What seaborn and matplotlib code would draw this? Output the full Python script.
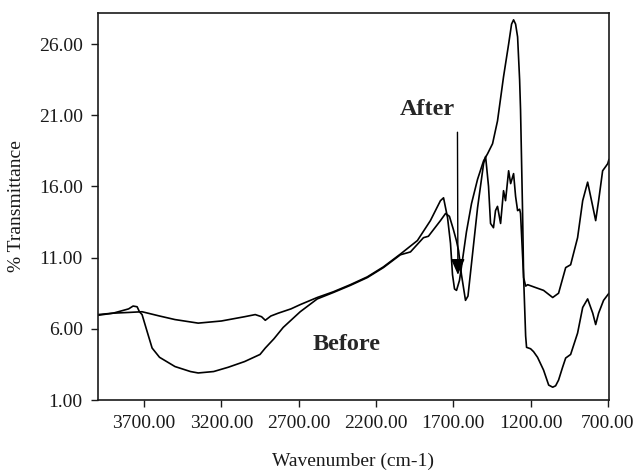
import numpy as np
import matplotlib
matplotlib.use("Agg")
import matplotlib.pyplot as plt
import seaborn as sns

# FTIR spectra (wavenumber cm-1, % transmittance)
wn_after = [3998, 3900, 3800, 3713, 3600, 3500, 3350, 3200, 3050, 2981, 2940, 2916,
            2880, 2832, 2750, 2690, 2580, 2476, 2366, 2256, 2152, 2042, 1932, 1848,
            1783, 1763, 1737, 1718, 1705, 1692, 1679, 1660, 1641, 1615, 1582, 1543,
            1504, 1478, 1446, 1414, 1375, 1342, 1323, 1310, 1297, 1284, 1271, 1265,
            1252, 1245, 1232, 1226, 1200, 1181, 1155, 1116, 1083, 1057, 1038, 1019,
            993, 973, 941, 896, 863, 831, 798, 779, 760, 728, 693]
tr_after = [7.0, 7.1, 7.15, 7.2, 6.9, 6.65, 6.4, 6.55, 6.85, 7.0, 6.85, 6.6,
            6.9, 7.1, 7.4, 7.7, 8.2, 8.6, 9.1, 9.65, 10.35, 11.25, 12.2, 13.6,
            15.0, 15.2, 13.8, 12.0, 9.8, 8.8, 8.7, 9.4, 10.8, 12.8, 14.8, 16.5,
            17.8, 18.3, 19.0, 20.6, 23.7, 26.0, 27.4, 27.7, 27.4, 26.5, 23.5, 21.4,
            14.3, 9.6, 5.5, 4.7, 4.6, 4.4, 4.0, 3.1, 2.05, 1.9, 2.0, 2.4,
            3.3, 3.95, 4.2, 5.7, 7.5, 8.1, 7.1, 6.3, 7.1, 8.0, 8.5]

wn_before = [3998, 3900, 3800, 3771, 3745, 3730, 3713, 3680, 3648, 3600, 3500, 3400,
             3350, 3250, 3156, 3050, 2950, 2916, 2860, 2800, 2690, 2580, 2476, 2366,
             2256, 2152, 2042, 1977, 1893, 1861, 1783, 1750, 1725, 1700, 1680, 1666,
             1647, 1621, 1605, 1590, 1576, 1543, 1504, 1491, 1472, 1459, 1440, 1427,
             1414, 1394, 1375, 1362, 1342, 1329, 1310, 1297, 1284, 1271, 1265, 1245,
             1232, 1219, 1168, 1116, 1057, 1019, 973, 941, 896, 863, 831, 798,
             779, 760, 734, 714, 701, 693]
tr_before = [6.95, 7.1, 7.4, 7.6, 7.55, 7.2, 7.0, 5.8, 4.65, 4.0, 3.35, 3.0,
             2.9, 3.0, 3.3, 3.7, 4.2, 4.65, 5.3, 6.1, 7.2, 8.1, 8.55, 9.05,
             9.6, 10.3, 11.2, 11.4, 12.4, 12.5, 13.6, 14.1, 13.9, 13.0, 12.2, 11.5,
             9.8, 8.0, 8.3, 9.8, 11.2, 14.5, 17.6, 18.1, 16.0, 13.4, 13.1, 14.3,
             14.6, 13.4, 15.7, 15.0, 17.1, 16.2, 16.9, 15.3, 14.3, 14.4, 14.1, 9.6,
             9.0, 9.1, 8.9, 8.7, 8.2, 8.5, 10.3, 10.5, 12.4, 15.0, 16.3, 14.6,
             13.6, 15.0, 17.1, 17.4, 17.6, 17.9]

y_ticks = [1, 6, 11, 16, 21, 26]
x_ticks = [3700, 3200, 2700, 2200, 1700, 1200, 700]

sns.set_theme(style="ticks")
plt.rcParams['font.family'] = ['Liberation Serif', 'DejaVu Serif']

fig = plt.figure(figsize=(6.38, 4.71), dpi=100)
ax = fig.add_axes([0.1536, 0.1507, 0.8009, 0.8217])

sns.lineplot(x=wn_after, y=tr_after, color="black", lw=1.2, estimator=None, ax=ax)
sns.lineplot(x=wn_before, y=tr_before, color="black", lw=1.2, estimator=None, ax=ax)

ax.set_xlim(3998, 693)
ax.set_ylim(1, 28.18)
ax.set_xticks(x_ticks)
ax.set_yticks(y_ticks)
ax.set_xticklabels([f"{v:.2f}" for v in x_ticks])
ax.set_yticklabels([f"{v:.2f}" for v in y_ticks])
ax.tick_params(direction="out", length=5, width=1, labelsize=14, colors="#1a1a1a",
               pad=6)
for s in ax.spines.values():
    s.set_color("#1a1a1a")
    s.set_linewidth(1.2)

ax.set_xlabel("Wavenumber (cm-1)", fontsize=14, color="#1a1a1a")
ax.set_ylabel("% Transmittance", fontsize=14, color="#1a1a1a")
ax.xaxis.set_label_coords(0.50, -0.135)
ax.yaxis.set_label_coords(-0.143, 0.50)

ax.annotate("", xy=(1670, 9.6), xytext=(1673, 20.0),
            arrowprops=dict(arrowstyle="-|>,head_length=0.8,head_width=0.35",
                            color="black", lw=1.0))
ax.text(1867, 21.4, "After", fontsize=17.5, fontweight="bold", ha="center", va="center")
ax.text(2392, 4.93, "Before", fontsize=17.5, fontweight="bold", ha="center", va="center")

fig.savefig("out.png", dpi=100)
